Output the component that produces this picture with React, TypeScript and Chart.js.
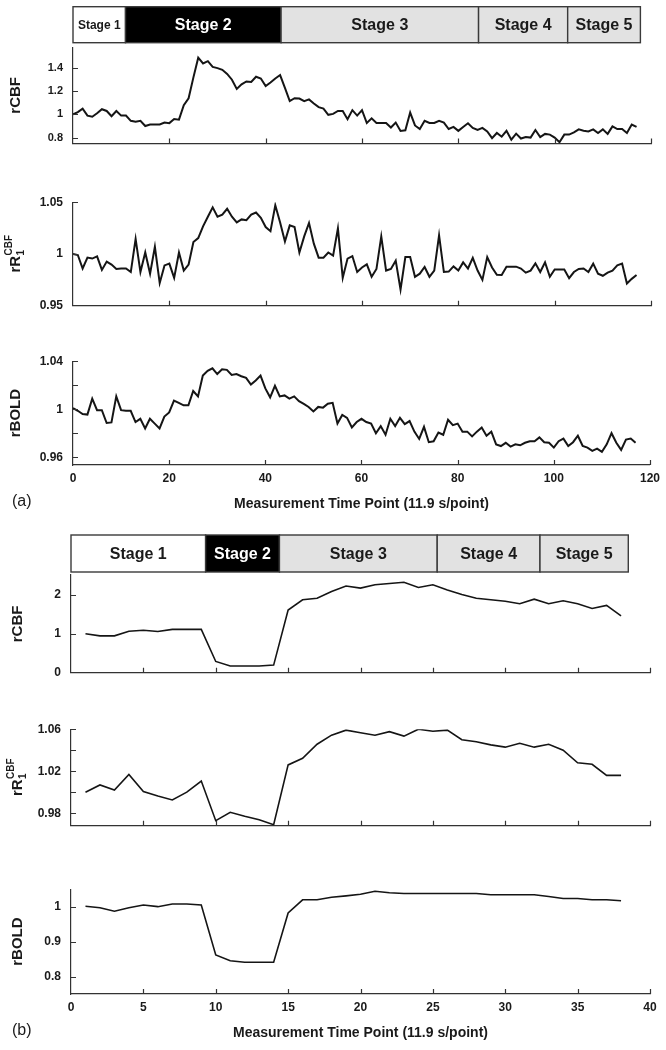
import React, { useEffect, useRef } from "react";
import { Chart, registerables } from "chart.js";
Chart.register(...registerables);

const FONT = "'Liberation Sans', Arial, Helvetica, sans-serif";

// ---------- Part (a) data ----------
const aStartX = 0;
const aRCBF = [
  1.0, 1.02, 1.05, 0.99, 0.98, 1.01, 1.045, 1.03, 0.985, 1.03,
  0.99, 0.99, 0.945, 0.937, 0.945, 0.9, 0.913, 0.913, 0.913, 0.93,
  0.925, 0.96, 0.955, 1.08, 1.14, 1.32, 1.49, 1.44, 1.46, 1.41,
  1.4, 1.385, 1.35, 1.3, 1.22, 1.26, 1.285, 1.28, 1.325, 1.31,
  1.245, 1.275, 1.31, 1.34, 1.23, 1.115, 1.14, 1.137, 1.115, 1.13,
  1.095, 1.063, 1.05, 0.997, 1.005, 1.03, 1.03, 0.958, 1.037, 0.99,
  1.037, 0.926, 0.966, 0.926, 0.926, 0.926, 0.887, 0.93, 0.858, 0.863,
  1.016, 0.905, 0.874, 0.945, 0.926, 0.926, 0.945, 0.93, 0.874, 0.892,
  0.858, 0.892, 0.924, 0.884, 0.866, 0.884, 0.853, 0.795, 0.84, 0.808,
  0.858, 0.782, 0.834, 0.792, 0.805, 0.8, 0.866, 0.805, 0.832, 0.826,
  0.8, 0.76, 0.826, 0.826, 0.845, 0.871, 0.86, 0.853, 0.871, 0.84,
  0.871, 0.832, 0.897, 0.874, 0.874, 0.84, 0.913, 0.892,
];
const aRR1 = [
  1.0, 0.999, 0.986, 0.9965, 0.9956, 0.9977, 0.9846, 0.9927, 0.9898, 0.9855,
  0.986, 0.986, 0.9826, 1.0145, 0.9826, 1.0015, 0.981, 1.007, 0.972, 0.989,
  0.9907, 0.977, 1.0015, 0.984, 0.9898, 1.0116, 1.0154, 1.0267, 1.036, 1.045,
  1.036, 1.038, 1.0436, 1.036, 1.0305, 1.0334, 1.0326, 1.038, 1.04, 1.035,
  1.026, 1.022, 1.047, 1.0305, 1.012, 1.0276, 1.026, 1.0015, 1.017, 1.03,
  1.01, 0.9965, 0.9965, 1.0015, 0.9985, 1.0247, 0.977, 0.9956, 0.998, 0.9826,
  0.987, 0.99, 0.978, 0.9855, 1.017, 0.984, 0.9855, 0.9936, 0.9657, 0.997,
  0.997, 0.978, 0.981, 0.9875, 0.978, 0.984, 1.018, 0.9826, 0.983, 0.988,
  0.984, 0.9919, 0.986, 0.9962, 0.984, 0.975, 0.997, 0.987, 0.98, 0.9797,
  0.9878, 0.9878, 0.9878, 0.986, 0.982, 0.984, 0.991, 0.9826, 0.9919, 0.978,
  0.985, 0.985, 0.985, 0.9767, 0.9826, 0.9855, 0.986, 0.9826, 0.9907, 0.981,
  0.979, 0.982, 0.984, 0.989, 0.9907, 0.9715, 0.976, 0.9797,
];
const aRBOLD = [
  1.001, 0.9987, 0.996, 0.9955, 1.0088, 0.9992, 0.9992, 0.9885, 0.989, 1.0107,
  0.9992, 0.9987, 0.9987, 0.9893, 0.992, 0.984, 0.992, 0.988, 0.984, 0.9939,
  0.9973, 1.0072, 1.0053, 1.0032, 1.0032, 1.0152, 1.0107, 1.028, 1.032, 1.0341,
  1.0293, 1.0333, 1.0328, 1.0285, 1.0293, 1.0275, 1.0261, 1.0205, 1.024, 1.028,
  1.0173, 1.0099, 1.0195, 1.0107, 1.0115, 1.0088, 1.0107, 1.0067, 1.0045, 1.0019,
  0.9981, 1.0019, 1.0013, 1.0045, 1.0053, 0.988, 0.9952, 0.9928, 0.9848, 0.9893,
  0.992, 0.9893, 0.988, 0.98, 0.9859, 0.9787, 0.992, 0.9859, 0.9928, 0.9875,
  0.9901, 0.9813, 0.9752, 0.9853, 0.9725, 0.9733, 0.9805, 0.9787, 0.9912, 0.9867,
  0.988, 0.9813, 0.9813, 0.9773, 0.9813, 0.9848, 0.9779, 0.9813, 0.9707, 0.9693,
  0.972, 0.9688, 0.9707, 0.9699, 0.972, 0.9733, 0.9733, 0.9765, 0.9725, 0.972,
  0.968, 0.9733, 0.9755, 0.9693, 0.9725, 0.9779, 0.9693, 0.968, 0.9653, 0.9672,
  0.9645, 0.9707, 0.98, 0.972, 0.9661, 0.9747, 0.9755, 0.972,
];
const aXTicks = [0, 20, 40, 60, 80, 100, 120];
const aStageNames = ["Stage 1", "Stage 2", "Stage 3", "Stage 4", "Stage 5"];
const aStageEdges = [0, 10.9, 43.2, 84.2, 102.7, 117.8];

// ---------- Part (b) data ----------
const bStartX = 1;
const bRCBF = [
  1.0, 0.945, 0.945, 1.063, 1.087, 1.055, 1.11, 1.11, 1.11, 0.29,
  0.173, 0.173, 0.173, 0.197, 1.606, 1.866, 1.906, 2.08, 2.22, 2.165,
  2.25, 2.283, 2.315, 2.18, 2.25, 2.118, 2.0, 1.906, 1.866, 1.827,
  1.764, 1.882, 1.764, 1.843, 1.764, 1.646, 1.724, 1.457,
];
const bRR1 = [
  1.0, 1.0069, 1.002, 1.0169, 1.0006, 0.9963, 0.9926, 1.0, 1.0106, 0.9729,
  0.9809, 0.9771, 0.9737, 0.9691, 1.026, 1.0323, 1.0457, 1.0543, 1.0591, 1.0566,
  1.0543, 1.0577, 1.0534, 1.06, 1.058, 1.0591, 1.05, 1.048, 1.0451, 1.0429,
  1.0466, 1.0429, 1.0457, 1.04, 1.028, 1.0266, 1.016, 1.016,
];
const bRBOLD = [
  1.001, 0.997, 0.987, 0.997, 1.0047, 1.0, 1.0075, 1.0075, 1.0047, 0.862,
  0.845, 0.841, 0.841, 0.841, 0.982, 1.0197, 1.0197, 1.027, 1.031, 1.0357,
  1.044, 1.04, 1.0376, 1.0376, 1.0376, 1.0376, 1.0376, 1.0376, 1.034, 1.034,
  1.034, 1.034, 1.029, 1.0235, 1.0235, 1.0197, 1.0197, 1.017,
];
const bXTicks = [0, 5, 10, 15, 20, 25, 30, 35, 40];
const bStageNames = ["Stage 1", "Stage 2", "Stage 3", "Stage 4", "Stage 5"];
const bStageEdges = [0, 9.3, 14.4, 25.3, 32.4, 38.5];

const stageFills = ["#ffffff", "#000000", "#e2e2e2", "#e2e2e2", "#e2e2e2"];
const stageTextColors = ["#1a1a1a", "#ffffff", "#1a1a1a", "#1a1a1a", "#1a1a1a"];

// y-axis tick values and labels
const aRCBFTicks = [0.8, 1, 1.2, 1.4];
const aRCBFLabels = ["0.8", "1", "1.2", "1.4"];
const aRR1Ticks = [0.95, 1, 1.05];
const aRR1Labels = ["0.95", "1", "1.05"];
const aRBOLDTicks = [0.96, 0.98, 1, 1.02, 1.04];
const aRBOLDLabels = ["0.96", "", "1", "", "1.04"];
const bRCBFTicks = [0, 1, 2];
const bRCBFLabels = ["0", "1", "2"];
const bRR1Ticks = [0.98, 1, 1.02, 1.04, 1.06];
const bRR1Labels = ["0.98", "", "1.02", "", "1.06"];
const bRBOLDTicks = [0.8, 0.9, 1];
const bRBOLDLabels = ["0.8", "0.9", "1"];

const xTitleText = "Measurement Time Point (11.9 s/point)";

type Panel = {
  values: number[];
  xStart: number;
  xMin: number;
  xMax: number;
  xTicks: number[];
  showX: boolean;
  yMin: number;
  yMax: number;
  yTicks: number[];
  yLabels: string[];
  title: string;
  sub?: string;
  sup?: string;
  tickFont: number;
  canvasTop: number;
  canvasBottom: number;
  top: number;
  bottom: number;
  left: number;
  right: number;
  titleX: number;
  stages?: { names: string[]; edges: number[]; top: number; bottom: number; smallFirst: boolean };
  partLabel?: string;
  lineWidth: number;
};

const panels: Panel[] = [
  {
    values: aRCBF, xStart: aStartX, xMin: 0, xMax: 120, xTicks: aXTicks, showX: false,
    yMin: 0.75, yMax: 1.58, yTicks: aRCBFTicks, yLabels: aRCBFLabels, title: "rCBF", tickFont: 11,
    canvasTop: 0, canvasBottom: 160, top: 47.25, bottom: 151, left: 73, right: 651, titleX: 16,
    stages: { names: aStageNames, edges: aStageEdges, top: 6.7, bottom: 42.7, smallFirst: true },
    lineWidth: 2,
  },
  {
    values: aRR1, xStart: aStartX, xMin: 0, xMax: 120, xTicks: aXTicks, showX: false,
    yMin: 0.95, yMax: 1.05, yTicks: aRR1Ticks, yLabels: aRR1Labels, title: "rR", sub: "1", sup: "CBF", tickFont: 12,
    canvasTop: 185, canvasBottom: 323, top: 199, bottom: 314, left: 73, right: 651, titleX: 16,
    lineWidth: 2,
  },
  {
    values: aRBOLD, xStart: aStartX, xMin: 0, xMax: 120, xTicks: aXTicks, showX: true,
    yMin: 0.9535, yMax: 1.04, yTicks: aRBOLDTicks, yLabels: aRBOLDLabels, title: "rBOLD", tickFont: 12,
    canvasTop: 344, canvasBottom: 520, top: 358, bottom: 465, left: 73, right: 651, titleX: 16,
    partLabel: "(a)", lineWidth: 2,
  },
  {
    values: bRCBF, xStart: bStartX, xMin: 0, xMax: 40, xTicks: bXTicks, showX: false,
    yMin: 0, yMax: 2.5, yTicks: bRCBFTicks, yLabels: bRCBFLabels, title: "rCBF", tickFont: 12,
    canvasTop: 525, canvasBottom: 690, top: 575, bottom: 681, left: 71, right: 650, titleX: 18,
    stages: { names: bStageNames, edges: bStageEdges, top: 535, bottom: 572, smallFirst: false },
    lineWidth: 1.6,
  },
  {
    values: bRR1, xStart: bStartX, xMin: 0, xMax: 40, xTicks: bXTicks, showX: false,
    yMin: 0.968, yMax: 1.06, yTicks: bRR1Ticks, yLabels: bRR1Labels, title: "rR", sub: "1", sup: "CBF", tickFont: 12,
    canvasTop: 712, canvasBottom: 843, top: 726.7, bottom: 834, left: 71, right: 650, titleX: 18,
    lineWidth: 1.6,
  },
  {
    values: bRBOLD, xStart: bStartX, xMin: 0, xMax: 40, xTicks: bXTicks, showX: true,
    yMin: 0.75, yMax: 1.05, yTicks: bRBOLDTicks, yLabels: bRBOLDLabels, title: "rBOLD", tickFont: 12,
    canvasTop: 872, canvasBottom: 1050, top: 886.7, bottom: 994, left: 71, right: 650, titleX: 18,
    partLabel: "(b)", lineWidth: 1.6,
  },
];

const AXIS = "#333333";

function makeDecoPlugin(p: Panel) {
  return {
    id: "panelDeco",
    afterDraw(chart: any) {
      const ctx: CanvasRenderingContext2D = chart.ctx;
      const { left, right, top, bottom } = chart.chartArea;
      const xs = chart.scales.x;
      const ys = chart.scales.y;
      ctx.save();
      ctx.strokeStyle = AXIS;
      ctx.lineWidth = 1.2;
      ctx.beginPath();
      xs.ticks.forEach((t: any) => {
        if (t.value === xs.min) return;
        const px = Math.round(xs.getPixelForValue(t.value)) + 0.5;
        ctx.moveTo(px, bottom);
        ctx.lineTo(px, bottom - 5);
      });
      ys.ticks.forEach((t: any) => {
        if (t.value === ys.min) return;
        const py = Math.round(ys.getPixelForValue(t.value)) + 0.5;
        ctx.moveTo(left, py);
        ctx.lineTo(left + 5, py);
      });
      ctx.stroke();

      const cy = (top + bottom) / 2;
      ctx.translate(p.titleX, cy);
      ctx.rotate(-Math.PI / 2);
      ctx.fillStyle = "#1a1a1a";
      ctx.textBaseline = "middle";
      ctx.textAlign = "left";
      const mainFont = `bold 15px ${FONT}`;
      const smallFont = `bold 10px ${FONT}`;
      ctx.font = mainFont;
      const wMain = ctx.measureText(p.title).width;
      ctx.font = smallFont;
      const wSub = p.sub ? ctx.measureText(p.sub).width : 0;
      const wSup = p.sup ? ctx.measureText(p.sup).width : 0;
      const total = wMain + Math.max(wSub, wSup);
      const x0 = -total / 2;
      ctx.font = mainFont;
      ctx.fillText(p.title, x0, 0);
      ctx.font = smallFont;
      if (p.sub) ctx.fillText(p.sub, x0 + wMain + 0.5, 5);
      if (p.sup) ctx.fillText(p.sup, x0 + wMain + 0.5, -7);
      ctx.setTransform(1, 0, 0, 1, 0, 0);

      if (p.stages) {
        const s = p.stages;
        const y0 = s.top - p.canvasTop;
        const y1 = s.bottom - p.canvasTop;
        for (let i = 0; i < s.names.length; i++) {
          const xa = xs.getPixelForValue(s.edges[i]);
          const xb = xs.getPixelForValue(s.edges[i + 1]);
          ctx.fillStyle = stageFills[i];
          ctx.fillRect(xa, y0, xb - xa, y1 - y0);
          ctx.strokeStyle = "#3a3a3a";
          ctx.lineWidth = 1.4;
          ctx.strokeRect(xa, y0, xb - xa, y1 - y0);
          ctx.fillStyle = stageTextColors[i];
          const fs = s.smallFirst && i === 0 ? 12 : 16;
          ctx.font = `bold ${fs}px ${FONT}`;
          ctx.textAlign = "center";
          ctx.textBaseline = "middle";
          ctx.fillText(s.names[i], (xa + xb) / 2, (y0 + y1) / 2 + 1);
        }
      }

      if (p.partLabel) {
        const ty = bottom + 39;
        ctx.fillStyle = "#1a1a1a";
        ctx.font = `bold 14px ${FONT}`;
        ctx.textAlign = "center";
        ctx.textBaseline = "middle";
        ctx.fillText(xTitleText, (left + right) / 2, ty);
        ctx.font = `16px ${FONT}`;
        ctx.textAlign = "left";
        ctx.fillText(p.partLabel, 12, ty - 2);
      }
      ctx.restore();
    },
  };
}

function PanelChart({ p }: { p: Panel }) {
  const ref = useRef<HTMLCanvasElement | null>(null);
  const height = p.canvasBottom - p.canvasTop;
  useEffect(() => {
    if (!ref.current) return;
    const pts = p.values.map((v, i) => ({ x: p.xStart + i, y: v }));
    const chart = new Chart(ref.current, {
      type: "line",
      data: {
        datasets: [
          {
            data: pts,
            borderColor: "#151515",
            borderWidth: p.lineWidth,
            pointRadius: 0,
            tension: 0,
            fill: false,
          },
        ],
      },
      options: {
        animation: false,
        responsive: false,
        events: [],
        layout: {
          padding: { top: p.top - p.canvasTop, right: 666 - p.right, left: 0, bottom: 0 },
        },
        plugins: { legend: { display: false }, tooltip: { enabled: false } },
        scales: {
          x: {
            type: "linear",
            min: p.xMin,
            max: p.xMax,
            afterBuildTicks: (s: any) => {
              s.ticks = p.xTicks.map((v) => ({ value: v }));
            },
            afterFit: (s: any) => {
              s.height = p.canvasBottom - p.bottom;
            },
            grid: { display: false, drawTicks: false },
            border: { display: true, color: AXIS, width: 1.2 },
            ticks: {
              display: p.showX,
              padding: 6,
              color: "#1a1a1a",
              font: { family: FONT, size: 12, weight: "bold" },
              maxRotation: 0,
              autoSkip: false,
              callback: (v: any) => String(v),
            },
          },
          y: {
            type: "linear",
            min: p.yMin,
            max: p.yMax,
            afterBuildTicks: (s: any) => {
              s.ticks = p.yTicks.map((v) => ({ value: v }));
            },
            afterFit: (s: any) => {
              s.width = p.left;
            },
            grid: { display: false, drawTicks: false },
            border: { display: true, color: AXIS, width: 1.2 },
            ticks: {
              padding: 10,
              color: "#1a1a1a",
              font: { family: FONT, size: p.tickFont, weight: "bold" },
              autoSkip: false,
              callback: (_v: any, i: number) => p.yLabels[i],
            },
          },
        },
      } as any,
      plugins: [makeDecoPlugin(p)],
    });
    return () => chart.destroy();
  }, [p]);
  return (
    <canvas
      ref={ref}
      width={666}
      height={height}
      style={{ position: "absolute", left: 0, top: p.canvasTop, width: 666, height, display: "block" }}
    />
  );
}

export default function App() {
  return (
    <div style={{ position: "absolute", left: 0, top: 0, width: 666, height: 1050, background: "#ffffff", overflow: "hidden" }}>
      {panels.map((p, i) => (
        <PanelChart key={i} p={p} />
      ))}
    </div>
  );
}
